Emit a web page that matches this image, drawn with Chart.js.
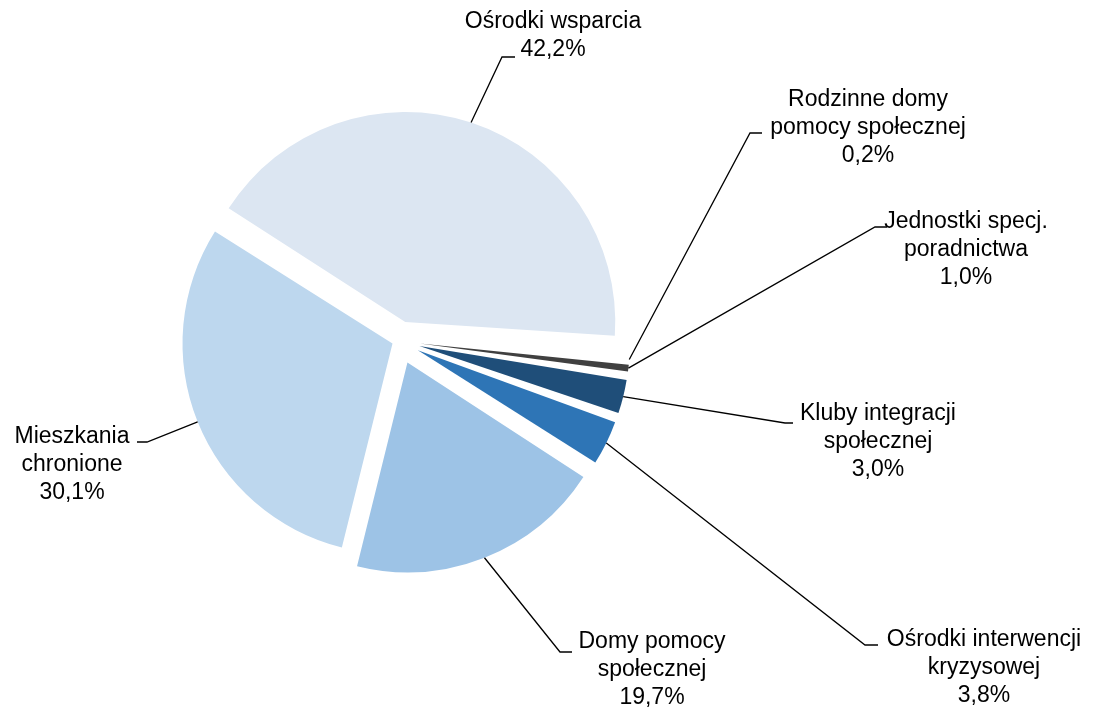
<!DOCTYPE html>
<html>
<head>
<meta charset="utf-8">
<script src="https://cdn.jsdelivr.net/npm/chart.js@4.4.1/dist/chart.umd.min.js"></script>
<style>
    body { margin: 0; background: #ffffff; }
    #wrap { width: 1093px; height: 710px; }
</style>
</head>
<body>
<div id="wrap"><canvas id="pieChart" width="1093" height="710"></canvas></div>
<script>
// dane
const categories = [
    ['Ośrodki wsparcia'],
    ['Rodzinne domy', 'pomocy społecznej'],
    ['Jednostki specj.', 'poradnictwa'],
    ['Kluby integracji', 'społecznej'],
    ['Ośrodki interwencji', 'kryzysowej'],
    ['Domy pomocy', 'społecznej'],
    ['Mieszkania', 'chronione']
];
const shares = [42.2, 0.2, 1.0, 3.0, 3.8, 19.7, 30.1];

const sliceColors = ['#dce6f2', '#8ea4c4', '#404040', '#1f4e79', '#2e75b6', '#9dc3e6', '#bdd7ee'];
// przesuniecie wycinka = offset / 4 px
const sliceOffsets = [80, 84, 84, 84, 84, 92, 28];
const pieRadius = 210;

// pozycje etykiet: srodek tekstu (x, y pierwszej linii), punkt zalamania linii, koniec odcinka poziomego
const labelLayout = [
    { x: 553, y: 22, elbow: [502, 57], end: [515, 57] },
    { x: 868, y: 100, elbow: [750, 133], end: [762, 133] },
    { x: 966, y: 222, elbow: [875, 227], end: [887, 227] },
    { x: 878, y: 414, elbow: [785, 423], end: [793, 423] },
    { x: 984, y: 640, elbow: [865, 645], end: [878, 645] },
    { x: 652, y: 642, elbow: [560, 652], end: [572, 652] },
    { x: 72, y: 437, elbow: [147, 442], end: [137, 442] }
];
const lineHeight = 27.6;

function formatPct(v) {
    return v.toFixed(1).replace('.', ',') + '%';
}

// Chart.js powieksza promien wycinka o offset*fix - tu to kompensujemy,
// zeby wszystkie wycinki mialy ten sam promien (jak w Excelu)
const equalRadiusPlugin = {
    id: 'equalRadius',
    afterDatasetsUpdate(chart) {
        chart.getDatasetMeta(0).data.forEach(arc => {
            const circ = arc.endAngle - arc.startAngle;
            const off = (arc.options.offset || 0) / 4;
            const fix = 1 - Math.sin(Math.min(Math.PI, circ));
            arc.outerRadius = pieRadius - off * fix;
        });
    }
};

const labelsPlugin = {
    id: 'pieLabels',
    afterDatasetsDraw(chart) {
        const ctx = chart.ctx;
        const arcs = chart.getDatasetMeta(0).data;
        ctx.save();
        ctx.font = '23px "Liberation Sans", Arial, sans-serif';
        ctx.fillStyle = '#000000';
        ctx.textAlign = 'center';
        ctx.textBaseline = 'middle';
        ctx.strokeStyle = '#000000';
        ctx.lineWidth = 1.3;

        arcs.forEach((arc, i) => {
            const lay = labelLayout[i];
            const mid = (arc.startAngle + arc.endAngle) / 2;
            const off = (arc.options.offset || 0) / 4;
            const r = pieRadius + off;
            const px = arc.x + Math.cos(mid) * r;
            const py = arc.y + Math.sin(mid) * r;

            ctx.beginPath();
            ctx.moveTo(px, py);
            ctx.lineTo(lay.elbow[0], lay.elbow[1]);
            ctx.lineTo(lay.end[0], lay.end[1]);
            ctx.stroke();

            const lines = categories[i].concat([formatPct(shares[i])]);
            lines.forEach((txt, k) => {
                ctx.fillText(txt, lay.x, lay.y + k * lineHeight);
            });
        });
        ctx.restore();
    }
};

new Chart(document.getElementById('pieChart'), {
    type: 'pie',
    data: {
        labels: categories.map(c => c.join(' ')),
        datasets: [{
            data: shares,
            backgroundColor: sliceColors,
            borderWidth: 0,
            offset: sliceOffsets,
            radius: pieRadius
        }]
    },
    options: {
        responsive: false,
        animation: false,
        rotation: -57.7,
        layout: {
            padding: { left: 0, top: 0, right: 295, bottom: 28 }
        },
        plugins: {
            legend: { display: false },
            tooltip: { enabled: false }
        }
    },
    plugins: [equalRadiusPlugin, labelsPlugin]
});
</script>
</body>
</html>
